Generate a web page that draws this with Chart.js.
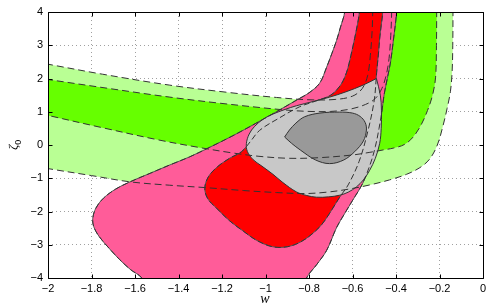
<!DOCTYPE html>
<html><head><meta charset="utf-8">
<script src="https://cdn.jsdelivr.net/npm/chart.js@4/dist/chart.umd.min.js"></script>
<style>html,body{margin:0;padding:0;background:#fff}</style>
</head><body>
<canvas id="c" width="491" height="308"></canvas>
<script>
// ---- data ----
const xTickValues = [-2,-1.8,-1.6,-1.4,-1.2,-1,-0.8,-0.6,-0.4,-0.2,0];
const yTickValues = [-4,-3,-2,-1,0,1,2,3,4];

// outer (2-sigma) band, light green
const lightGreenW    = [-2.06,-2.0,-1.75,-1.44,-1.17,-0.95,-0.80,-0.68,-0.60,-0.555,-0.53,-0.518,-0.510,-0.507,-0.507,-0.138,-0.138,-0.139,-0.142,-0.150,-0.165,-0.185,-0.21,-0.245,-0.29,-0.351,-0.43,-0.52,-0.62,-0.72,-0.82,-0.95,-1.1,-1.28,-1.44,-1.62,-1.8,-2.0,-2.06];
const lightGreenZeta = [2.50,2.43,2.13,1.80,1.58,1.43,1.36,1.37,1.47,1.70,2.1,2.7,3.4,4.0,4.4,4.4,4.0,3.0,2.2,1.6,1.1,0.55,0.0,-0.42,-0.68,-0.88,-1.05,-1.2,-1.33,-1.42,-1.46,-1.43,-1.37,-1.28,-1.21,-1.11,-0.92,-0.71,-0.64];

// inner (1-sigma) band, green
const greenW    = [-2.06,-2.0,-1.72,-1.44,-1.2,-0.92,-0.80,-0.70,-0.61,-0.54,-0.495,-0.465,-0.445,-0.432,-0.424,-0.42,-0.42,-0.213,-0.213,-0.214,-0.218,-0.232,-0.255,-0.285,-0.32,-0.36,-0.41,-0.46,-0.52,-0.60,-0.75,-0.89,-1.03,-1.15,-1.30,-1.49,-1.75,-2.0,-2.06];
const greenZeta = [2.03,1.97,1.70,1.44,1.25,1.06,1.01,1.01,1.08,1.22,1.40,1.7,2.1,2.6,3.3,4.0,4.4,4.4,4.0,3.0,2.04,1.5,1.04,0.6,0.25,0.02,-0.09,-0.15,-0.22,-0.30,-0.38,-0.40,-0.34,-0.24,-0.08,0.15,0.52,0.89,0.98];

// second constraint, 2-sigma (pink)
const pinkW    = [-0.64,-0.636,-0.655,-0.673,-0.695,-0.719,-0.751,-0.80,-0.852,-0.95,-1.045,-1.15,-1.257,-1.35,-1.44,-1.53,-1.62,-1.69,-1.745,-1.78,-1.794,-1.79,-1.765,-1.72,-1.67,-1.62,-1.569,-1.55,-0.82,-0.811,-0.765,-0.719,-0.673,-0.635,-0.599,-0.553,-0.515,-0.495,-0.478,-0.465,-0.455,-0.44,-0.425,-0.412,-0.397,-0.397];
const pinkZeta = [4.4,4.0,3.55,3.15,2.75,2.34,1.86,1.57,1.37,1.0,0.65,0.28,-0.07,-0.36,-0.6,-0.85,-1.1,-1.33,-1.6,-1.9,-2.2,-2.45,-2.75,-3.1,-3.45,-3.75,-4.0,-4.4,-4.4,-4.0,-3.6,-3.17,-2.48,-2.05,-1.66,-1.15,-0.51,-0.05,0.5,1.0,1.5,2.0,2.5,3.15,4.0,4.4];

// second constraint, 1-sigma (red)
const redW    = [-0.568,-0.568,-0.578,-0.59,-0.607,-0.627,-0.655,-0.70,-0.77,-0.843,-0.94,-1.027,-1.07,-1.11,-1.165,-1.22,-1.262,-1.279,-1.265,-1.225,-1.165,-1.10,-1.04,-0.967,-0.90,-0.84,-0.783,-0.74,-0.705,-0.659,-0.62,-0.57,-0.53,-0.50,-0.489,-0.48,-0.475,-0.468,-0.461,-0.461];
const redZeta = [4.4,4.0,3.6,3.21,2.7,2.19,1.8,1.50,1.32,1.15,0.8,0.44,0.1,-0.2,-0.40,-0.65,-0.95,-1.30,-1.62,-1.90,-2.28,-2.6,-2.87,-3.06,-3.06,-2.92,-2.66,-2.38,-2.05,-1.57,-1.2,-0.5,0.4,1.35,2.19,2.8,3.21,3.6,4.0,4.4];

// combined, 2-sigma (light gray)
const grayW    = [-0.49,-0.472,-0.467,-0.468,-0.475,-0.495,-0.521,-0.55,-0.582,-0.62,-0.659,-0.71,-0.766,-0.81,-0.858,-0.92,-0.966,-1.02,-1.057,-1.083,-1.088,-1.075,-1.05,-1.01,-0.966,-0.91,-0.858,-0.78,-0.705,-0.63,-0.552,-0.49];
const grayZeta = [2.0,1.5,1.04,0.5,0.05,-0.4,-0.76,-1.05,-1.26,-1.42,-1.51,-1.56,-1.57,-1.52,-1.41,-1.13,-0.88,-0.62,-0.44,-0.2,0.04,0.33,0.56,0.78,0.93,1.07,1.18,1.31,1.44,1.6,1.80,2.0];

// combined, 1-sigma (dark gray)
const darkGrayW    = [-0.912,-0.89,-0.86,-0.82,-0.75,-0.66,-0.60,-0.565,-0.542,-0.536,-0.55,-0.59,-0.64,-0.705,-0.77,-0.84,-0.88,-0.912];
const darkGrayZeta = [0.24,0.45,0.66,0.85,0.96,0.99,0.96,0.86,0.68,0.45,0.12,-0.2,-0.45,-0.56,-0.45,-0.15,0.05,0.24];

// ---- build ----
const pts = (ws, zs) => ws.map((w, i) => ({x: w, y: zs[i]}));
const fmt = v => String(Math.round(v * 10) / 10).replace('-', '\u2212');

function filled(data, color, order, border) {
  return {data, backgroundColor: color, borderColor: border || 'rgba(0,0,0,0)',
    borderWidth: border ? 1 : 0, fill: 'shape', pointRadius: 0, order, tension: 0.35};
}
function dashed(data, order, dash) {
  return {data, borderColor: '#333', borderWidth: 1, borderDash: dash || [7, 4],
    fill: false, pointRadius: 0, order, tension: 0.35};
}

const lg = pts(lightGreenW, lightGreenZeta);
const g  = pts(greenW, greenZeta);
const pk = pts(pinkW, pinkZeta);
const rd = pts(redW, redZeta);
const gy = pts(grayW, grayZeta);
const dg = pts(darkGrayW, darkGrayZeta);

const datasets = [
  filled(lg, '#b9ff94', 20),
  filled(g,  '#66ff00', 19),
  filled(pk, '#ff5c99', 18, '#555'),
  filled(rd, '#ff0000', 17, '#555'),
  filled(gy, '#c8c8c8', 5, '#333'),
  filled(dg, '#999999', 4, '#333'),
  dashed(lg, 1), dashed(g, 1), dashed(pk, 1, [6, 3]), dashed(rd, 1, [6, 3]),
];

const frame = {
  id: 'frame',
  afterDraw(chart) {
    const {ctx, chartArea: a, scales: {x, y}} = chart;
    ctx.save();
    ctx.strokeStyle = '#000';
    ctx.lineWidth = 1;
    const L = Math.round(a.left) + 0.5, R = Math.round(a.right) + 0.5;
    const T = Math.round(a.top) + 0.5, B = Math.round(a.bottom) + 0.5;
    ctx.beginPath();
    ctx.rect(L, T, R - L, B - T);
    xTickValues.forEach(v => {
      const p = Math.round(x.getPixelForValue(v)) + 0.5;
      ctx.moveTo(p, B); ctx.lineTo(p, B - 4);
      ctx.moveTo(p, T); ctx.lineTo(p, T + 4);
    });
    yTickValues.forEach(v => {
      const p = Math.round(y.getPixelForValue(v)) + 0.5;
      ctx.moveTo(L, p); ctx.lineTo(L + 4, p);
      ctx.moveTo(R, p); ctx.lineTo(R - 4, p);
    });
    ctx.stroke();
    // axis titles
    ctx.fillStyle = '#000';
    ctx.font = 'italic 14px "Liberation Serif"';
    ctx.textAlign = 'center';
    ctx.textBaseline = 'alphabetic';
    ctx.fillText('w', 265, 303);
    ctx.translate(17, 150);
    ctx.rotate(-Math.PI / 2);
    ctx.textAlign = 'left';
    ctx.font = 'italic 13px "Liberation Serif"';
    ctx.fillText('\u03B6', 0, 0);
    const zw = ctx.measureText('\u03B6').width;
    ctx.font = '9px "Liberation Sans"';
    ctx.fillText('0', zw, 4);
    ctx.restore();
  }
};

new Chart(document.getElementById('c'), {
  type: 'line',
  data: {datasets},
  plugins: [frame],
  options: {
    responsive: false,
    animation: false,
    devicePixelRatio: 1,
    layout: {padding: {left: 0, right: 8, top: 12, bottom: 0}},
    elements: {line: {capBezierPoints: false}},
    plugins: {legend: {display: false}, tooltip: {enabled: false}},
    scales: {
      x: {
        type: 'linear', min: -2, max: 0,
        afterBuildTicks: s => { s.ticks = xTickValues.map(v => ({value: v})); },
        afterFit: s => { s.height = 30; },
        grid: {color: '#a0a0a0', lineWidth: 1, drawTicks: false},
        border: {display: false, dash: [1, 3]},
        ticks: {color: '#000', padding: 4, maxRotation: 0, autoSkip: false,
          font: {family: '"Liberation Sans"', size: 11}, callback: v => fmt(v)}
      },
      y: {
        type: 'linear', min: -4, max: 4,
        afterBuildTicks: s => { s.ticks = yTickValues.map(v => ({value: v})); },
        afterFit: s => { s.width = 48; },
        grid: {color: '#a0a0a0', lineWidth: 1, drawTicks: false},
        border: {display: false, dash: [1, 3]},
        ticks: {color: '#000', padding: 5, autoSkip: false,
          font: {family: '"Liberation Sans"', size: 11}, callback: v => fmt(v)}
      }
    }
  }
});
</script>
</body></html>
